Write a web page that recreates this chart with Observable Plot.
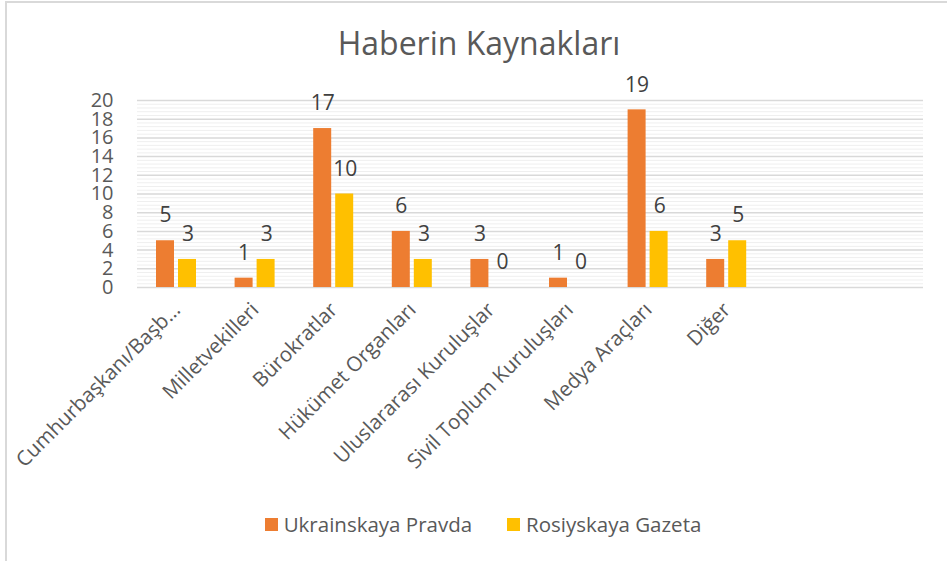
<!DOCTYPE html>
<html>
<head>
<meta charset="utf-8">
<script src="https://cdn.jsdelivr.net/npm/d3@7"></script>
<script src="https://cdn.jsdelivr.net/npm/@observablehq/plot@0.6"></script>
<style>
  html, body { margin: 0; padding: 0; background: #fff; }
  body { width: 947px; height: 561px; position: relative; overflow: hidden; font-family: "Open Sans", sans-serif; }
  #frame { position: absolute; left: 5px; top: 1px; width: 950px; height: 570px; border-left: 2px solid #d9d9d9; border-top: 2px solid #d9d9d9; }
  #title { position: absolute; left: 0; top: 21px; width: 958px; text-align: center; font-size: 32px; color: #595959; }
  #chart { position: absolute; left: 0; top: 60px; }
  #legend { position: absolute; left: 0; top: 510px; width: 966px; display: flex; justify-content: center; gap: 35px; font-size: 20.5px; color: #595959; }
  #legend span.item { display: flex; align-items: center; }
  #legend span.sw { display: inline-block; width: 13px; height: 13px; margin-right: 6px; }
</style>
</head>
<body>
<div id="frame"></div>
<div id="title">Haberin Kaynakları</div>
<div id="chart"></div>
<div id="legend"></div>
<script>
const categories = ["Cumhurbaşkanı/Başb…", "Milletvekilleri", "Bürokratlar", "Hükümet Organları", "Uluslararası Kuruluşlar", "Sivil Toplum Kuruluşları", "Medya Araçları", "Diğer"];
const emptySlots = ["", " "];
const seriesNames = ["Ukrainskaya Pravda", "Rosiyskaya Gazeta"];
const ukrainskayaPravda = [5, 1, 17, 6, 3, 1, 19, 3];
const rosiyskayaGazeta = [3, 3, 10, 3, 0, 0, 6, 5];
const yTicks = [0, 2, 4, 6, 8, 10, 12, 14, 16, 18, 20];
const colors = ["#ED7D31", "#FFC000"];

const dataU = categories.map((c, i) => ({category: c, value: ukrainskayaPravda[i]}));
const dataR = categories.map((c, i) => ({category: c, value: rosiyskayaGazeta[i]}));
const minorTicks = d3.range(0, 101).map(i => i * 0.4).filter(v => v <= 20 && !yTicks.some(t => Math.abs(t - v) < 1e-6));

const chart = Plot.plot({
  width: 947,
  height: 440,
  marginTop: 40,
  marginBottom: 213,
  marginLeft: 137,
  marginRight: 24,
  style: {fontFamily: "Open Sans, sans-serif", color: "#595959", background: "transparent", overflow: "visible"},
  x: {domain: [...categories, ...emptySlots], padding: 0, round: false},
  y: {domain: [0, 20]},
  marks: [
    Plot.gridY(minorTicks, {stroke: "#efefef", strokeOpacity: 1, strokeWidth: 1}),
    Plot.gridY(yTicks, {stroke: "#d9d9d9", strokeOpacity: 1, strokeWidth: 1.5}),
    Plot.axisY(yTicks, {tickSize: 0, tickPadding: 24, fontSize: 20, fill: "#595959", label: null}),
    Plot.axisX({tickSize: 0, tickRotate: -45, tickPadding: 19, fontSize: 20.5, fill: "#595959", label: null, dx: 0}),
    Plot.barY(dataU, {x: "category", y: "value", fill: colors[0], insetLeft: 19, insetRight: 41.6}),
    Plot.barY(dataR, {x: "category", y: "value", fill: colors[1], insetLeft: 41, insetRight: 19.6}),
    Plot.text(dataU, {x: "category", y: "value", text: d => String(d.value), dx: -11.3, dy: -25, fontSize: 21, fill: "#404040"}),
    Plot.text(dataR, {x: "category", y: "value", text: d => String(d.value), dx: 11.3, dy: -25, fontSize: 21, fill: "#404040"})
  ]
});
document.getElementById("chart").appendChild(chart);

const legend = document.getElementById("legend");
seriesNames.forEach((name, i) => {
  const item = document.createElement("span");
  item.className = "item";
  const sw = document.createElement("span");
  sw.className = "sw";
  sw.style.background = colors[i];
  item.appendChild(sw);
  item.appendChild(document.createTextNode(name));
  legend.appendChild(item);
});
</script>
</body>
</html>
